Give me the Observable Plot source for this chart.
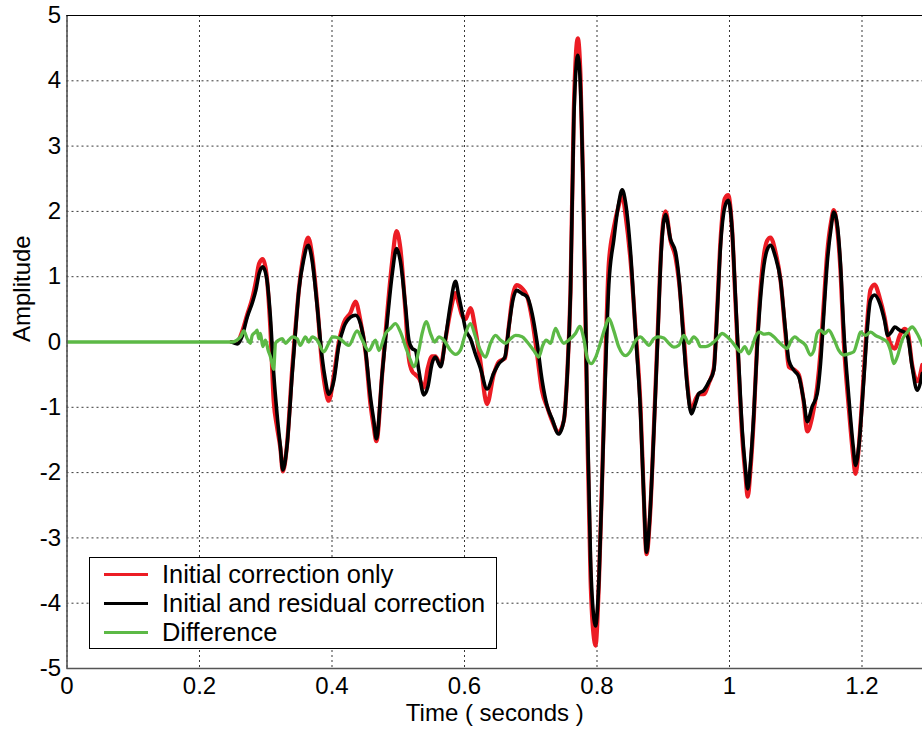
<!DOCTYPE html>
<html>
<head>
<meta charset="utf-8">
<script src="https://cdn.jsdelivr.net/npm/d3@7"></script>
<script src="https://cdn.jsdelivr.net/npm/@observablehq/plot@0.6"></script>
<style>
  html, body { margin: 0; padding: 0; background: #fff; }
  #wrap { position: relative; width: 922px; height: 729px; overflow: hidden; font-family: "Liberation Sans", Arial, sans-serif; }
  #legend { position: absolute; left: 89px; top: 557px; width: 408px; height: 92px; box-sizing: border-box;
            border: 1px solid #000; background: #fff; }
  .row { position: absolute; left: 0; height: 29px; width: 100%; }
  .sw { position: absolute; left: 14px; width: 44px; height: 3px; top: 13px; }
  .lb { position: absolute; left: 72px; top: 0; font-size: 25.4px; line-height: 29px; color: #000; white-space: nowrap; }
</style>
</head>
<body>
<div id="wrap"></div>
<script>
// ---- data ----
const seriesNames = ["Initial correction only", "Initial and residual correction", "Difference"];
const seriesColors = ["#ec1c24", "#000000", "#5cb946"];
const xTicks = [0, 0.2, 0.4, 0.6, 0.8, 1, 1.2];
const yTicks = [-5, -4, -3, -2, -1, 0, 1, 2, 3, 4, 5];

const time = [0.248,0.257,0.264,0.272,0.280,0.285,0.290,0.2955,0.301,0.307,0.312,0.317,0.322,0.3258,0.332,0.340,0.345,0.350,0.357,0.364,0.370,0.3777,0.385,0.390,0.395,0.403,0.410,0.418,0.428,0.4355,0.443,0.4506,0.458,0.463,0.467,0.4758,0.483,0.491,0.4974,0.503,0.511,0.516,0.521,0.526,0.531,0.5386,0.5446,0.551,0.556,0.564,0.571,0.579,0.5864,0.591,0.5965,0.6015,0.609,0.617,0.624,0.634,0.644,0.652,0.661,0.667,0.673,0.6785,0.687,0.6946,0.702,0.7097,0.717,0.725,0.732,0.742,0.750,0.755,0.760,0.765,0.771,0.775,0.779,0.7826,0.786,0.7902,0.7955,0.7977,0.803,0.808,0.8128,0.8178,0.8254,0.833,0.838,0.843,0.8506,0.858,0.8657,0.8706,0.8747,0.8797,0.8857,0.8918,0.8969,0.9034,0.911,0.9185,0.9235,0.931,0.936,0.9426,0.9487,0.9536,0.9612,0.9688,0.9763,0.9814,0.9864,0.993,0.998,1.004,1.009,1.014,1.0192,1.0242,1.0275,1.0317,1.0367,1.0418,1.0493,1.0568,1.0619,1.0694,1.077,1.0845,1.0895,1.097,1.1046,1.112,1.1173,1.1248,1.1324,1.1374,1.1424,1.1474,1.1535,1.1574,1.1625,1.1675,1.1725,1.18,1.1867,1.1902,1.1952,1.2027,1.2078,1.2128,1.2189,1.2269,1.234,1.239,1.244,1.2495,1.257,1.264,1.269,1.2757,1.2832,1.291];

const initialOnly = [0,0.0,0.15,0.42,0.68,0.92,1.2,1.27,1.05,0.2,-0.9,-1.3,-1.62,-1.98,-1.58,-0.4,0.23,0.8,1.33,1.6,1.33,0.57,-0.35,-0.72,-0.9,-0.5,-0.02,0.3,0.45,0.62,0.32,-0.15,-0.95,-1.3,-1.52,-0.48,0.4,1.25,1.7,1.45,0.45,-0.25,-0.45,-0.5,-0.55,-0.7,-0.4,-0.22,-0.22,-0.35,0.03,0.48,0.75,0.6,0.4,0.35,0.52,0.15,-0.3,-0.95,-0.5,-0.3,-0.25,0.25,0.72,0.87,0.82,0.7,0.35,-0.2,-0.75,-1.0,-1.2,-1.38,-1.2,-0.5,0.78,3.55,4.65,4.1,2.45,0.3,-1.65,-3.6,-4.55,-4.65,-3.65,-2.0,-0.25,1.2,1.75,2.1,2.27,1.95,1.25,0.2,-1.0,-2.35,-3.25,-2.72,-1.36,0.19,1.44,2.0,1.55,1.3,0.95,0.08,-0.6,-1.05,-0.88,-0.8,-0.8,-0.63,-0.4,0.5,1.55,2.2,2.25,1.71,0.62,-0.45,-1.45,-2.05,-2.37,-1.95,-1.15,0.0,1.1,1.55,1.6,1.38,0.95,0.12,-0.38,-0.42,-0.5,-0.92,-1.37,-1.15,-0.68,-0.15,0.6,1.35,1.85,2.02,1.75,1.1,0.0,-1.0,-1.75,-2.02,-1.6,-0.48,0.3,0.8,0.88,0.67,0.38,0.1,-0.05,-0.1,0.1,0.2,0.15,-0.35,-0.6,-0.35];

const initialResidual = [0,-0.03,0.08,0.38,0.61,0.79,1.05,1.15,1.0,0.38,-0.48,-1.1,-1.6,-1.96,-1.6,-0.48,0.18,0.79,1.25,1.48,1.25,0.54,-0.23,-0.58,-0.8,-0.58,-0.07,0.23,0.38,0.41,0.28,-0.13,-0.84,-1.2,-1.48,-0.48,0.28,1.05,1.43,1.25,0.54,0.03,-0.1,-0.13,-0.43,-0.81,-0.69,-0.33,-0.23,-0.38,0.03,0.59,0.93,0.72,0.45,0.2,0.05,-0.2,-0.4,-0.72,-0.48,-0.33,-0.23,0.23,0.64,0.79,0.74,0.69,0.44,-0.02,-0.58,-0.99,-1.17,-1.41,-1.2,-0.53,0.75,3.4,4.39,3.91,2.39,0.49,-1.41,-3.31,-4.25,-4.35,-3.63,-2.04,-0.46,0.87,1.57,2.14,2.33,2.14,1.38,0.17,-1.09,-2.36,-3.22,-2.68,-1.41,0.11,1.38,1.95,1.57,1.38,1.0,-0.02,-0.65,-1.1,-0.94,-0.79,-0.74,-0.61,-0.43,0.44,1.46,2.07,2.17,1.71,0.69,-0.33,-1.35,-1.96,-2.25,-1.86,-1.1,-0.08,0.95,1.41,1.48,1.3,0.95,0.18,-0.28,-0.43,-0.53,-0.89,-1.22,-0.99,-0.79,-0.33,0.44,1.2,1.76,1.99,1.81,1.2,0.18,-0.84,-1.6,-1.89,-1.6,-0.58,0.18,0.64,0.72,0.59,0.33,0.1,0.15,0.23,0.18,0.15,0.08,-0.38,-0.74,-0.48];

const diffTime = [0,0.249,0.2566,0.262,0.2668,0.272,0.277,0.2795,0.2845,0.287,0.2895,0.292,0.2955,0.2996,0.3037,0.3072,0.312,0.3147,0.3197,0.3248,0.33,0.335,0.34,0.3475,0.352,0.36,0.365,0.37,0.3777,0.3876,0.395,0.401,0.41,0.4254,0.438,0.4456,0.4556,0.4657,0.4707,0.4808,0.4883,0.4958,0.5034,0.511,0.5185,0.5235,0.531,0.536,0.5426,0.5487,0.5551,0.5612,0.5688,0.5789,0.5864,0.594,0.6015,0.609,0.6166,0.6242,0.6317,0.6392,0.6468,0.6543,0.6619,0.6694,0.677,0.687,0.6946,0.7046,0.7121,0.7182,0.7233,0.7298,0.7374,0.7434,0.7499,0.7574,0.7675,0.774,0.780,0.7852,0.7912,0.7977,0.805,0.8128,0.8178,0.8254,0.833,0.843,0.8505,0.858,0.8657,0.8717,0.878,0.8857,0.8918,0.9008,0.9084,0.916,0.9235,0.931,0.9386,0.9461,0.9512,0.9562,0.9638,0.9739,0.9814,0.989,0.9965,1.004,1.0116,1.0166,1.0231,1.0292,1.0342,1.0392,1.0453,1.0518,1.0593,1.0669,1.0744,1.082,1.087,1.0935,1.0986,1.1046,1.1147,1.1223,1.1273,1.1323,1.1374,1.1434,1.1499,1.1574,1.165,1.1725,1.18,1.1876,1.1936,1.1977,1.2053,1.2128,1.2204,1.2304,1.238,1.243,1.248,1.2531,1.2606,1.2682,1.2757,1.2832,1.2913];

const difference = [0,0,0.03,0.08,0.17,0.05,-0.02,0.1,0.15,0.18,0.05,0.13,-0.07,0.03,-0.13,-0.23,-0.42,-0.02,0.03,0.05,-0.02,0.03,0.08,0.05,-0.05,0.08,0.0,0.08,0.03,-0.15,-0.02,0.08,0.06,-0.05,0.17,0.03,-0.13,0.03,-0.13,0.13,0.21,0.28,0.15,-0.07,-0.28,-0.38,-0.13,0.13,0.31,0.13,0.0,0.08,0.03,-0.13,-0.19,-0.12,0.13,0.28,0.08,-0.13,-0.23,-0.02,0.1,0.03,-0.02,0.05,0.1,0.08,0.0,-0.13,-0.23,-0.05,0.03,-0.02,0.21,0.08,-0.02,0.03,0.13,0.24,0.05,-0.24,-0.33,-0.24,-0.02,0.24,0.36,0.17,-0.08,-0.21,-0.14,0.02,0.08,0.02,-0.05,0.05,0.08,0.06,-0.02,-0.08,-0.05,0.1,-0.02,0.08,0.03,-0.07,-0.07,-0.02,0.05,0.13,0.08,0.0,-0.1,-0.15,-0.07,-0.18,-0.07,0.08,0.15,0.12,0.13,0.08,0.0,-0.07,-0.1,0.03,0.08,0.03,-0.05,-0.2,-0.13,0.13,0.18,0.13,0.18,0.05,-0.13,-0.2,-0.18,-0.15,0.03,0.15,0.1,0.15,0.1,0.05,0.0,-0.13,-0.33,-0.23,0.03,0.15,0.23,0.13,-0.05];

// ---- build tables ----
const redData = time.map((t, i) => ({t, v: initialOnly[i]}));
const blackData = time.map((t, i) => ({t, v: initialResidual[i]}));
const greenData = diffTime.map((t, i) => ({t, v: difference[i]}));

const W = 922, H = 729;
const mL = 66.5, mR = 0, mT = 15, mB = 61;
const xMax = (W - mL - mR) / 662.5;

const chart = Plot.plot({
  width: W,
  height: H,
  marginLeft: mL,
  marginRight: mR,
  marginTop: mT,
  marginBottom: mB,
  style: {fontFamily: "'Liberation Sans', Arial, sans-serif", color: "#000", background: "#fff", overflow: "visible"},
  x: {domain: [0, xMax], axis: null},
  y: {domain: [-5, 5], axis: null},
  marks: [
    Plot.gridX(xTicks, {stroke: "#222", strokeOpacity: 0.9, strokeWidth: 1, strokeDasharray: "2,3"}),
    Plot.gridY(yTicks, {stroke: "#222", strokeOpacity: 0.9, strokeWidth: 1, strokeDasharray: "2,3"}),
    Plot.line(redData, {x: "t", y: "v", stroke: seriesColors[0], strokeWidth: 4.2, curve: "monotone-x", strokeLinejoin: "round", clip: true}),
    Plot.line(blackData, {x: "t", y: "v", stroke: seriesColors[1], strokeWidth: 3.6, curve: "monotone-x", strokeLinejoin: "round", clip: true}),
    Plot.line(greenData, {x: "t", y: "v", stroke: seriesColors[2], strokeWidth: 3.3, curve: "monotone-x", strokeLinejoin: "round", clip: true}),
    Plot.ruleX([0], {stroke: "#555", strokeWidth: 1.6}),
    Plot.ruleY([-5], {stroke: "#555", strokeWidth: 1.6}),
    Plot.ruleY([5], {stroke: "#000", strokeWidth: 1}),
    Plot.axisX(xTicks, {tickSize: 0, tickPadding: 8, fontSize: 24, tickFormat: d => String(d), label: null}),
    Plot.axisY(yTicks, {tickSize: 0, tickPadding: 6, fontSize: 24, tickFormat: d => String(d), label: null}),
    Plot.text(["Time ( seconds )"], {frameAnchor: "bottom", lineAnchor: "middle", dy: 45, fontSize: 24}),
    Plot.text(["Amplitude"], {frameAnchor: "left", dx: -44.5, rotate: -90, fontSize: 24})
  ]
});

const wrap = document.getElementById("wrap");
wrap.appendChild(chart);

// legend
const legend = document.createElement("div");
legend.id = "legend";
seriesNames.forEach((name, i) => {
  const row = document.createElement("div");
  row.className = "row";
  row.style.top = (2 + i * 29) + "px";
  const sw = document.createElement("div");
  sw.className = "sw";
  sw.style.background = seriesColors[i];
  const lb = document.createElement("div");
  lb.className = "lb";
  lb.textContent = name;
  row.appendChild(sw);
  row.appendChild(lb);
  legend.appendChild(row);
});
wrap.appendChild(legend);
</script>
</body>
</html>
